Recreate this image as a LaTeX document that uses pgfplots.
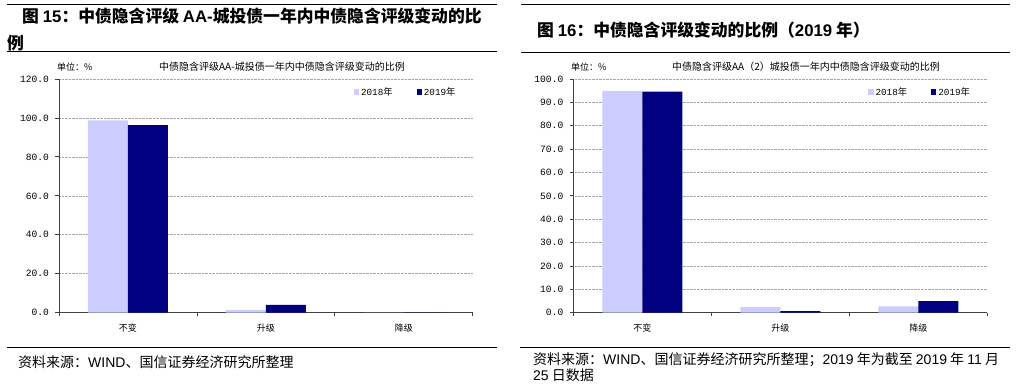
\documentclass[border=0pt]{standalone}
\usepackage{fontspec}
\usepackage{pgfplots}
\pgfplotsset{compat=1.18}
\setmainfont{Noto Sans CJK SC}
\newfontfamily\lmono{Liberation Mono}
\newfontfamily\lsans{Liberation Sans}
\definecolor{c18}{HTML}{CCCCFF}
\definecolor{c19}{HTML}{000080}
\definecolor{axc}{HTML}{404040}

\pgfplotsset{
  myax/.style={
    scale only axis, width=413.7pt, height=233.7pt, anchor=south west,
    ybar, bar width=40pt, ybar=0pt,
    xmin=-0.5, xmax=2.5,
    xtick={-0.5,0.5,1.5,2.5}, xticklabels={,,,},
    extra x ticks={0,1,2}, extra x tick labels={不变,升级,降级},
    extra x tick style={major tick length=0pt, xmajorgrids=false,
      xticklabel style={font=\fontsize{9}{10}\selectfont, yshift=-8pt}},
    axis lines*=left, axis line style={-, draw=axc, line width=0.8pt},
    tick align=outside, major tick length=3.5pt,
    tick style={draw=axc, line width=0.8pt},
    ymajorgrids, grid style={densely dotted, black!35, line width=0.6pt},
    ymin=0,
    scaled y ticks=false,
    yticklabel style={/pgf/number format/fixed, /pgf/number format/fixed zerofill,
      /pgf/number format/precision=1, /pgf/number format/assume math mode=true,
      font=\lmono\fontsize{9.6}{10}\selectfont, xshift=-3pt},
    legend style={draw=none, fill=none, at={(0.705,0.944)}, anchor=west,
      font=\fontsize{9.3}{10}\selectfont,
      /tikz/every even column/.append style={column sep=22pt}},
    legend columns=2,
    legend image code/.code={\fill[##1] (0pt,-2.6pt) rectangle (5.2pt,2.6pt);},
  }
}

\begin{document}
\begin{tikzpicture}[x=1pt,y=1pt]

% ---------- left panel ----------
\draw[line width=1pt] (7,386) -- (497,386);
\node[anchor=west, inner sep=0pt, font=\fontsize{16.8}{18}\selectfont\bfseries] at (22,375)
  {图 {\lsans 15}：中债隐含评级 {\lsans AA-}城投债一年内中债隐含评级变动的比};
\node[anchor=west, inner sep=0pt, font=\fontsize{16.8}{18}\selectfont\bfseries] at (7,348) {例};
\draw[line width=1pt] (7,339) -- (497,339);

\node[anchor=west, inner sep=0pt, font=\fontsize{9}{10}\selectfont] at (57,324) {单位：\%};
\node[inner sep=0pt, font=\fontsize{10}{11}\selectfont] at (282,324) {中债隐含评级AA-城投债一年内中债隐含评级变动的比例};

\begin{axis}[myax, at={(59pt,78.3pt)}, ymax=120, ytick={0,20,...,120}]
\addplot[fill=c18, draw=none] coordinates {(0,98.7) (1,1.4) (2,0)};
\addlegendentry{{\lmono 2018}年}
\addplot[fill=c19, draw=none] coordinates {(0,96.3) (1,4.0) (2,0)};
\addlegendentry{{\lmono 2019}年}
\end{axis}

\draw[line width=1pt] (7,43) -- (497,43);
\node[anchor=west, inner sep=0pt, font=\fontsize{14}{16}\selectfont] at (18,29)
  {资料来源：{\lsans WIND}、国信证券经济研究所整理};

% ---------- right panel ----------
\draw[line width=1pt] (521,386) -- (1010,386);
\node[anchor=west, inner sep=0pt, font=\fontsize{16.8}{18}\selectfont\bfseries] at (537,361)
  {图 {\lsans 16}：中债隐含评级变动的比例（{\lsans 2019} 年）};
\draw[line width=1pt] (521,338) -- (1010,338);

\node[anchor=west, inner sep=0pt, font=\fontsize{9}{10}\selectfont] at (571,324) {单位：\%};
\node[inner sep=0pt, font=\fontsize{10}{11}\selectfont] at (806,324) {中债隐含评级AA（2）城投债一年内中债隐含评级变动的比例};

\begin{axis}[myax, at={(573.3pt,78.3pt)}, width=414pt, ymax=100, ytick={0,10,...,100}]
\addplot[fill=c18, draw=none] coordinates {(0,94.9) (1,2.4) (2,2.7)};
\addlegendentry{{\lmono 2018}年}
\addplot[fill=c19, draw=none] coordinates {(0,94.6) (1,0.7) (2,4.9)};
\addlegendentry{{\lmono 2019}年}
\end{axis}

\draw[line width=1pt] (520,43) -- (1010,43);
\node[anchor=west, inner sep=0pt, font=\fontsize{14}{16}\selectfont] at (533,31)
  {资料来源：{\lsans WIND}、国信证券经济研究所整理；{\lsans 2019} 年为截至 {\lsans 2019} 年 {\lsans 11} 月};
\node[anchor=west, inner sep=0pt, font=\fontsize{14}{16}\selectfont] at (533,16)
  {{\lsans 25} 日数据};

\pgfresetboundingbox
\path[use as bounding box] (0pt,0pt) rectangle (1018pt,391pt);
\end{tikzpicture}
\end{document}
